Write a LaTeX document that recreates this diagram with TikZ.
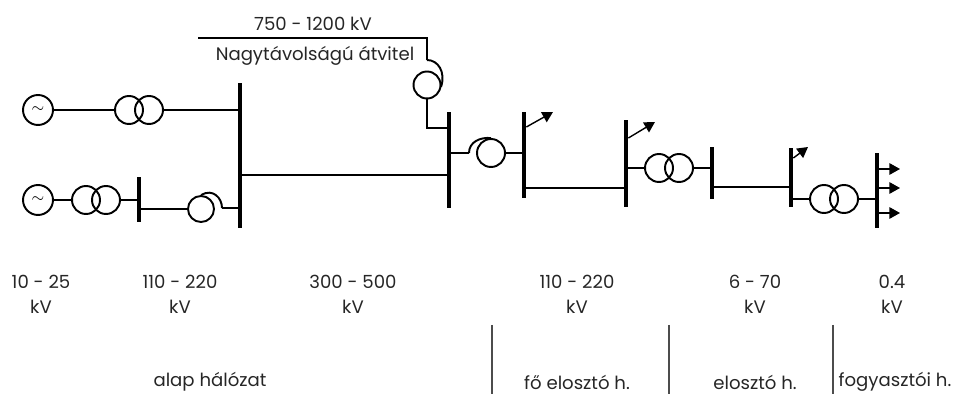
\documentclass[tikz,border=0pt]{standalone}
\usepackage{fontspec}
\setmainfont{Poppins}
\usetikzlibrary{arrows.meta}
\usetikzlibrary{positioning}

\begin{document}
\begin{tikzpicture}[x=0.02cm,y=-0.02cm,
  line/.style={line width=0.8pt},
  hook/.style={line width=1.1pt},
  bus/.style={fill=black,inner sep=0pt,minimum width=2.3pt},
  coil/.style={circle,draw,line width=1.1pt,minimum size=0.56cm,inner sep=0pt},
  gen/.style={coil,minimum size=0.6cm,font=\small},
  load/.style={line width=0.8pt,-{Triangle[length=6pt,width=6.5pt]}},
  lbl/.style={font=\fontsize{10.3}{12}\selectfont,inner sep=0pt,text=black!85}]

\useasboundingbox (0,0) rectangle (955,394);

% generators and transformers
\node[gen] (g1) at (38,110) {$\sim$};
\node[gen] (g2) at (38,200) {$\sim$};
\node[coil] (t1a) at (129,110) {};
\node[coil] (t1b) at (149,110) {};
\node[coil] (t2a) at (86,200) {};
\node[coil] (t2b) at (106,200) {};
\node[coil] (t3a) at (659,168) {};
\node[coil] (t3b) at (679,168) {};
\node[coil] (t4a) at (824,199) {};
\node[coil] (t4b) at (844,199) {};

% reactors
\node[coil,minimum size=0.52cm] (r1) at (201,209) {};
\node[coil,minimum size=0.54cm] (r2) at (427,85) {};
\node[coil] (r3) at (491,153) {};

% busbars
\node[bus,minimum height=0.9cm] (b0) at (139,199.5) {};
\node[bus,minimum height=2.9cm] (b1) at (240,155.5) {};
\node[bus,minimum height=1.92cm] (b2) at (449,160) {};
\node[bus,minimum height=1.72cm] (b3) at (524,155) {};
\node[bus,minimum height=1.74cm] (b4) at (626,163.5) {};
\node[bus,minimum height=1.04cm] (b5) at (712,173) {};
\node[bus,minimum height=1.18cm] (b6) at (791,177.5) {};
\node[bus,minimum height=1.5cm] (b7) at (877,190.5) {};

% connections
\draw[line] (g1) -- (t1a);
\draw[line] (t1b) -- (t1b -| b1.west);
\draw[line] (g2) -- (t2a);
\draw[line] (t2b) -- (t2b -| b0.west);
\draw[line] (b0.east |- r1) -- (r1);
\draw[hook] (r1.north) .. controls +(12,-7) and +(0,-10) .. (222,208) coordinate (h1);
\draw[line] (h1) -- (h1 -| b1.west);
\draw[line] (b1.east |- 0,175) coordinate (l1) -- (l1 -| b2.west);

\draw[line] (198,38) coordinate (hv) -- (427,38) -- (427,60) coordinate (h2);
\draw[hook] (h2) .. controls (438,60) and (446,72) .. (441,87);
\draw[line] (r2) -- (427,128) coordinate (h3) -- (h3 -| b2.west);

\draw[line] (b2.east |- r3) -- (469,153) coordinate (h4);
\draw[hook] (h4) .. controls (469,142) and (480,137) .. (r3.north);
\draw[line] (r3) -- (r3 -| b3.west);
\draw[load] (b3.east |- 0,127) -- (553,112);
\draw[line] (b3.east |- 0,188) coordinate (l2) -- (l2 -| b4.west);
\draw[load] (b4.east |- 0,138) -- (655,122);
\draw[line] (b4.east |- t3a) -- (t3a);
\draw[line] (t3b) -- (t3b -| b5.west);
\draw[line] (b5.east |- 0,187) coordinate (l3) -- (l3 -| b6.west);
\draw[load] (b6.east |- 0,158) -- (808,147);
\draw[line] (b6.east |- t4a) -- (t4a);
\draw[line] (t4b) -- (t4b -| b7.west);
\foreach \y in {169,188,213}
  \draw[load] (b7.east |- 0,\y) -- (900,\y);

% texts
\node[lbl] (nt) at (315,56) {Nagytávolságú átvitel};
\node[lbl] (kv) at (313,24) {750 - 1200 kV};

\node[lbl] (v1) at (41,282) {10 - 25};
\node[lbl,below=6pt of v1] {kV};
\node[lbl] (v2) at (180,282) {110 - 220};
\node[lbl,below=6pt of v2] {kV};
\node[lbl] (v3) at (353,282) {300 - 500};
\node[lbl,below=6pt of v3] {kV};
\node[lbl] (v4) at (577,282) {110 - 220};
\node[lbl,below=6pt of v4] {kV};
\node[lbl] (v5) at (755,282) {6 - 70};
\node[lbl,below=6pt of v5] {kV};
\node[lbl] (v6) at (892,282) {0.4};
\node[lbl,below=6pt of v6] {kV};

\draw[line,black!70] (492,325) -- (492,394);
\draw[line,black!70] (669,325) -- (669,394);
\draw[line,black!70] (833,325) -- (833,394);

\node[lbl] (n1) at (210,382) {alap hálózat};
\node[lbl] (n2) at (577,382) {fő elosztó h.};
\node[lbl] (n3) at (755,382) {elosztó h.};
\node[lbl] (n4) at (895,382) {fogyasztói h.};
\end{tikzpicture}
\end{document}
